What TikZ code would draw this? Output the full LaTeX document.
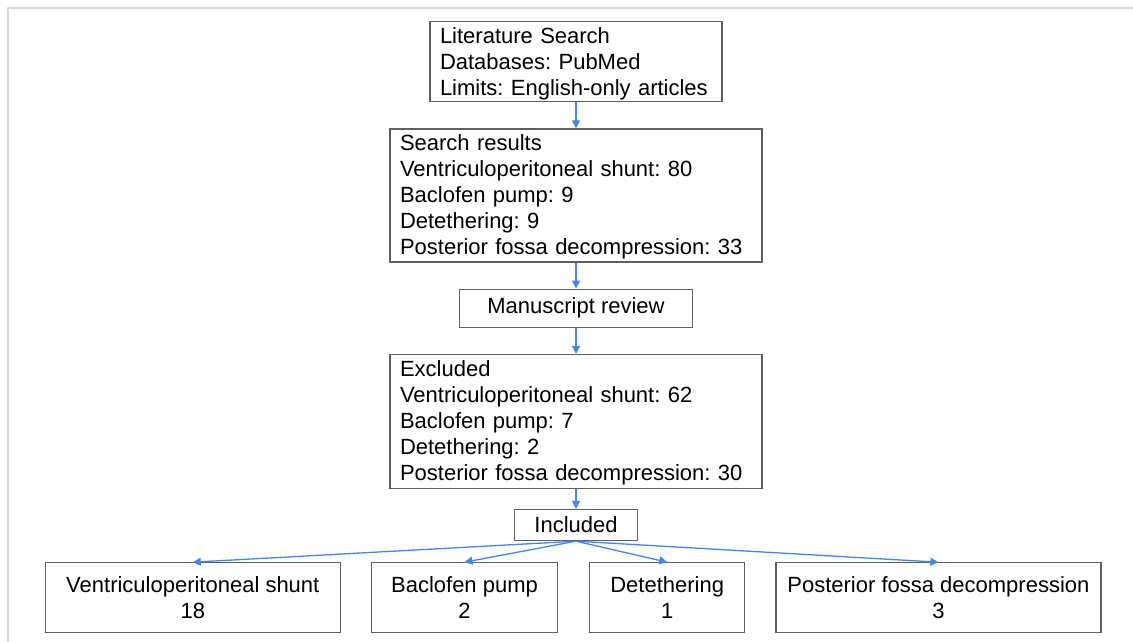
\documentclass[tikz,border=0pt]{standalone}
\usepackage{fontspec}
\setmainfont{Liberation Sans}
\usepackage{xcolor}
\usetikzlibrary{arrows.meta,positioning,calc}
\definecolor{flowblue}{RGB}{66,133,244}
\definecolor{boxgray}{RGB}{95,95,95}
\definecolor{framegray}{RGB}{218,218,218}
\frenchspacing

\begin{document}
\begin{tikzpicture}[
  x=1pt,y=1pt,
  node distance=26pt,
  font=\fontsize{22}{26}\selectfont,
  listbox/.style={draw=boxgray,line width=1.2pt,align=left,inner xsep=10pt,
                  inner ysep=2pt,text width=#1},
  midbox/.style={draw=boxgray,line width=1.2pt,align=center,inner sep=2pt},
  flow/.style={draw=flowblue,line width=1.3pt,-{Triangle[length=8pt,width=8pt]}}]
\useasboundingbox (0,0) rectangle (1133,-642);
\draw[framegray,line width=1.5pt] (8,-642) -- (8,-8) -- (1133,-8);
\node[listbox=272pt,minimum height=79pt] (lit) at (576,-61.5)
  {\rule{0pt}{20pt}Literature Search\\Databases: PubMed\\Limits: English-only articles};
\node[listbox=352pt,minimum height=133pt,below=of lit] (results)
  {\rule{0pt}{19pt}Search results\\Ventriculoperitoneal shunt: 80\\Baclofen pump: 9\\Detethering: 9\\Posterior fossa decompression: 33};
\node[midbox,minimum width=233pt,minimum height=38pt,below=of results] (review) {Manuscript review};
\node[listbox=352pt,minimum height=134pt,below=of review] (excluded)
  {\rule{0pt}{19pt}Excluded\\Ventriculoperitoneal shunt: 62\\Baclofen pump: 7\\Detethering: 2\\Posterior fossa decompression: 30};
\node[midbox,minimum width=123pt,minimum height=31pt,below=20pt of excluded] (included) {Included};
\node[midbox,minimum width=186pt,minimum height=70pt,below=21pt of included,xshift=-111.5pt] (baclofen) {Baclofen pump\\2};
\node[midbox,minimum width=295pt,minimum height=70pt,left=30pt of baclofen] (shunt) {Ventriculoperitoneal shunt\\18};
\node[midbox,minimum width=155pt,minimum height=70pt,right=31pt of baclofen] (detether) {Detethering\\1};
\node[midbox,minimum width=325pt,minimum height=70pt,right=30pt of detether] (fossa) {Posterior fossa decompression\\3};
\draw[flow] (lit) -- (results);
\draw[flow] (results) -- (review);
\draw[flow] (review) -- (excluded);
\draw[flow] (excluded) -- (included);
\draw[flow] (included.south) -- (shunt.north);
\draw[flow] (included.south) -- (baclofen.north);
\draw[flow] (included.south) -- (detether.north);
\draw[flow] (included.south) -- (fossa.north);
\end{tikzpicture}
\end{document}
